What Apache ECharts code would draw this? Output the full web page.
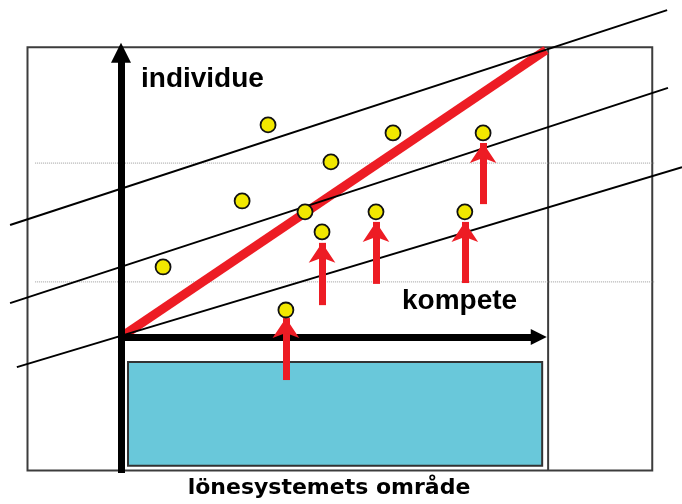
<!DOCTYPE html>
<html>
<head>
<meta charset="utf-8">
<script src="https://cdn.jsdelivr.net/npm/echarts@6/dist/echarts.min.js"></script>
<style>
    html, body { margin: 0; padding: 0; background: #fff; }
    #chart { width: 682px; height: 504px; }
</style>
</head>
<body>
<div id="chart"></div>
<script type="text/javascript">
    // diagram units: origin = axis crossing, red diagonal runs (0,0) -> (100,100)
    var frameBox = [-22, -46.5, 125, 101];        // x1, y1, x2, y2
    var splitX = 100.5;                            // inner vertical line
    var rangeBox = [1.65, -44.9, 99.1, -8.7];      // lönesystemets område
    var dottedY = [60.6, 19.2];
    var dottedFrom = -20.2;
    var dottedTo = 125.6;

    // parallel thin lines
    var bandStart = [[-26.1, 39.0], [-26.1, 11.8], [-24.5, -10.5]];
    var bandEnd = [[128.5, 113.9], [128.7, 86.8], [132, 59.2]];

    // individuals
    var dotX = [34.6, 64.0, 85.2, 49.4, 28.5, 43.3, 60.0, 80.9, 47.3, 9.9, 38.8];
    var dotY = [73.9, 71.1, 71.1, 61.0, 47.4, 43.6, 43.6, 43.6, 36.6, 24.4, 9.4];

    // red arrows (lifted salaries)
    var arrowX = [38.8, 47.3, 60.0, 80.9, 85.2];
    var arrowFrom = [-15.0, 11.1, 18.5, 18.8, 46.3];
    var arrowTo = [6.6, 32.8, 40.1, 40.1, 67.6];

    var chart = echarts.init(document.getElementById('chart'));

    function boxSeries(box, z, fill, stroke, width) {
        return {
            type: 'custom',
            z: z,
            silent: true,
            data: [box],
            renderItem: function (params, api) {
                var p1 = api.coord([api.value(0), api.value(3)]);
                var p2 = api.coord([api.value(2), api.value(1)]);
                return {
                    type: 'rect',
                    shape: { x: p1[0], y: p1[1], width: p2[0] - p1[0], height: p2[1] - p1[1] },
                    style: { fill: fill, stroke: stroke, lineWidth: width }
                };
            }
        };
    }

    function plainLine(points, z, color, width, type) {
        return {
            type: 'line',
            z: z,
            silent: true,
            symbol: 'none',
            data: points,
            lineStyle: { color: color, width: width, type: type || 'solid', cap: 'butt' }
        };
    }

    var series = [];
    series.push(boxSeries(frameBox, 1, '#fff', '#3c3c3c', 2));
    series.push(plainLine([[splitX, frameBox[1]], [splitX, frameBox[3]]], 2, '#3c3c3c', 2));
    for (var i = 0; i < dottedY.length; i++) {
        series.push(plainLine([[dottedFrom, dottedY[i]], [dottedTo, dottedY[i]]], 2, '#9a9a9a', 1, 'dotted'));
    }
    // red diagonal
    series.push(plainLine([[0, 0], [100, 100]], 3, '#ed1c24', 9));
    for (var j = 0; j < bandStart.length; j++) {
        series.push(plainLine([bandStart[j], bandEnd[j]], 4, '#000', 2));
    }
    series.push(boxSeries(rangeBox, 5, '#69c8da', '#333', 2));

    // axes
    series.push({
        type: 'lines', coordinateSystem: 'cartesian2d', z: 6, silent: true,
        symbol: ['none', 'triangle'], symbolSize: [18, 20],
        lineStyle: { color: '#000', width: 7, opacity: 1, curveness: 0 },
        data: [{ coords: [[0, -47.4], [0, 99]] }]
    });
    series.push({
        type: 'lines', coordinateSystem: 'cartesian2d', z: 6, silent: true,
        symbol: ['none', 'triangle'], symbolSize: [22, 16],
        lineStyle: { color: '#000', width: 7, opacity: 1, curveness: 0 },
        data: [{ coords: [[0, 0], [98.3, 0]] }]
    });

    var arrowData = [];
    for (var k = 0; k < arrowX.length; k++) {
        arrowData.push({ coords: [[arrowX[k], arrowFrom[k]], [arrowX[k], arrowTo[k]]] });
    }
    series.push({
        type: 'lines', coordinateSystem: 'cartesian2d', z: 7, silent: true,
        symbol: ['none', 'arrow'], symbolSize: [18, 20],
        lineStyle: { color: '#ed1c24', width: 7, opacity: 1, curveness: 0 },
        data: arrowData
    });

    var dots = [];
    for (var m = 0; m < dotX.length; m++) {
        dots.push([dotX[m], dotY[m]]);
    }
    series.push({
        type: 'scatter', z: 8, silent: true,
        symbolSize: 15,
        itemStyle: { color: '#f2e800', borderColor: '#111', borderWidth: 1.8, opacity: 1 },
        data: dots
    });

    var options = {
        animation: false,
        grid: { left: 2, right: 0, top: 1.21, bottom: 0.54 },
        xAxis: { type: 'value', min: -28, max: 132, show: false },
        yAxis: { type: 'value', min: -58, max: 117, show: false },
        graphic: [
            {
                type: 'text', x: 141, y: 79.5, z: 20,
                style: { text: 'individue', font: 'bold 28px "Liberation Sans", Arial, sans-serif',
                         fill: '#000', align: 'left', verticalAlign: 'middle' }
            },
            {
                type: 'text', x: 402, y: 301.5, z: 20,
                style: { text: 'kompete', font: 'bold 28px "Liberation Sans", Arial, sans-serif',
                         fill: '#000', align: 'left', verticalAlign: 'middle' }
            },
            {
                type: 'text', x: 329, y: 488.5, z: 20,
                style: { text: 'lönesystemets område', font: 'bold 22px "DejaVu Sans", sans-serif',
                         fill: '#000', align: 'center', verticalAlign: 'middle' }
            }
        ],
        series: series
    };
    chart.setOption(options);
</script>
</body>
</html>
